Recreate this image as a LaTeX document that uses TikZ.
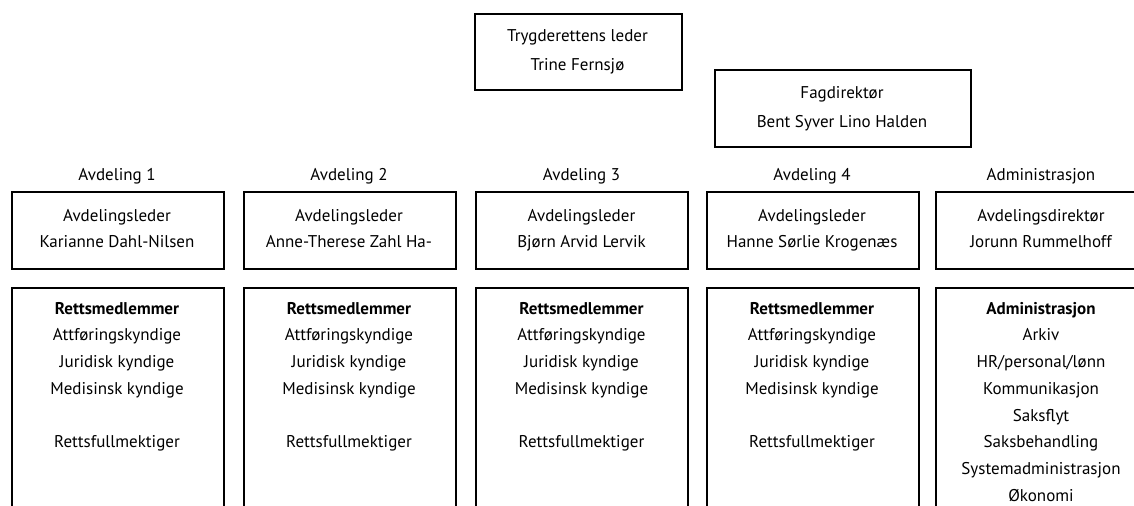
\documentclass[tikz,border=0pt]{standalone}
\usepackage{fontspec}
\setmainfont{PT Sans}
\newcommand{\fs}{\fontsize{17bp}{26.7bp}\selectfont}
\begin{document}
\begin{tikzpicture}[x=1bp,y=-1bp,
  box/.style={draw, line width=1.8bp, inner sep=0, anchor=north west},
  txt/.style={anchor=base, inner sep=0, font=\fs},
  btxt/.style={anchor=base, inner sep=0, font=\fs\bfseries}]
\useasboundingbox (0,0) rectangle (1134,506);
% top boxes
\node[box, minimum width=207bp, minimum height=76bp] (top) at (474,13) {};
\node[txt] (top1) at (577.5,41.7) {Trygderettens leder};
\node[txt] (top2) at (577.5,70.5) {Trine Fernsjø};
\node[box, minimum width=256bp, minimum height=77bp] (fag) at (714,69) {};
\node[txt] (fag1) at (842,99) {Fagdirektør};
\node[txt] (fag2) at (842,127.7) {Bent Syver Lino Halden};
% columns
\foreach \i/\xl/\xc/\head/\ttl/\nm in {1/11/117/Avdeling 1/Avdelingsleder/Karianne Dahl-Nilsen,
  2/243/349/Avdeling 2/Avdelingsleder/Anne-Therese Zahl Ha-,
  3/475/581.5/Avdeling 3/Avdelingsleder/Bjørn Arvid Lervik,
  4/706/812/Avdeling 4/Avdelingsleder/Hanne Sørlie Krogenæs,
  5/935/1041/Administrasjon/Avdelingsdirektør/Jorunn Rummelhoff}{
  \node[txt] (h\i) at (\xc,181) {\head};
  \node[box, minimum width=212bp, minimum height=77bp] (lb\i) at (\xl,191) {};
  \node[txt] (lt\i) at (\xc,221.3) {\ttl};
  \node[txt] (ln\i) at (\xc,247.8) {\nm};
  \node[box, minimum width=212bp, minimum height=240bp] (ub\i) at (\xl,287) {};
}
\foreach \i/\xc in {1/117,2/349,3/581.5,4/812}{
  \node[btxt] (r\i a) at (\xc,314.3) {Rettsmedlemmer};
  \node[txt] (r\i b) at (\xc,341) {Attføringskyndige};
  \node[txt] (r\i c) at (\xc,367.7) {Juridisk kyndige};
  \node[txt] (r\i d) at (\xc,394.4) {Medisinsk kyndige};
  \node[txt] (r\i e) at (\xc,447.8) {Rettsfullmektiger};
}
\node[btxt] (a1) at (1041,314.3) {Administrasjon};
\node[txt] (a2) at (1041,341) {Arkiv};
\node[txt] (a3) at (1041,367.7) {HR/personal/lønn};
\node[txt] (a4) at (1041,394.4) {Kommunikasjon};
\node[txt] (a5) at (1041,421.1) {Saksflyt};
\node[txt] (a6) at (1041,447.8) {Saksbehandling};
\node[txt] (a7) at (1041,474.5) {Systemadministrasjon};
\node[txt] (a8) at (1041,501.2) {Økonomi};
\end{tikzpicture}
\end{document}
